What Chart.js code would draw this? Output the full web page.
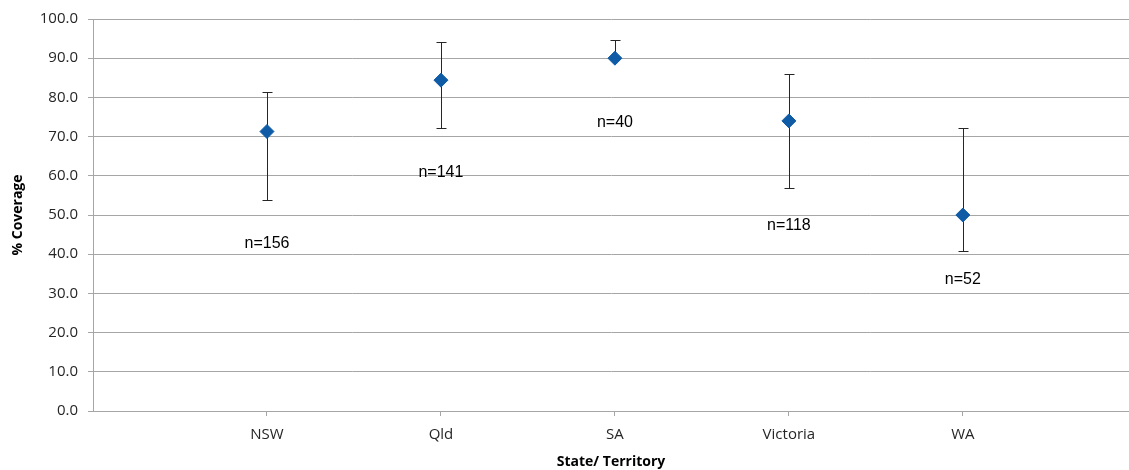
<!DOCTYPE html>
<html>
<head>
<meta charset="utf-8">
<script src="https://cdn.jsdelivr.net/npm/chart.js@4.4.1/dist/chart.umd.min.js"></script>
<style>
	html, body { margin: 0; padding: 0; background: #fff; overflow: hidden; }
	#wrap { width: 1129px; height: 470px; }
</style>
</head>
<body>
<div id="wrap"><canvas id="myChart"></canvas></div>
<script>
// data
const categories = ['NSW', 'Qld', 'SA', 'Victoria', 'WA']
const coverage   = [71.3, 84.4, 90.0, 74.0, 50.0]
const upperCI    = [81.4, 94.1, 94.7, 85.9, 72.3]
const lowerCI    = [53.7, 72.3, 90.0, 56.9, 40.9]
const sampleText = ['n=156', 'n=141', 'n=40', 'n=118', 'n=52']
const sampleY    = [42.7, 60.7, 73.6, 47.3, 33.4]   // where the n= labels sit
const yTicks     = [0, 10, 20, 30, 40, 50, 60, 70, 80, 90, 100]

// categories sit at 1..5 on a 0..6 axis; the picture is cut just before 6
const xMax = 5.955

const gridColor   = '#A6A6A6'
const markerColor = '#0F5BA6'
const barColor    = '#262626'
const tickColor   = '#262626'

const errorBars = {
	id: 'errorBars',
	beforeDatasetsDraw(chart) {
		const { ctx, scales: { x, y } } = chart
		ctx.save()
		ctx.strokeStyle = barColor
		ctx.lineWidth = 1
		categories.forEach((cat, i) => {
			const px = Math.round(x.getPixelForValue(i + 1)) + 0.5
			const top = Math.round(y.getPixelForValue(upperCI[i])) + 0.5
			const bot = Math.round(y.getPixelForValue(lowerCI[i])) + 0.5
			ctx.beginPath()
			ctx.moveTo(px, top); ctx.lineTo(px, bot)
			ctx.moveTo(px - 5, top); ctx.lineTo(px + 5, top)
			ctx.moveTo(px - 5, bot); ctx.lineTo(px + 5, bot)
			ctx.stroke()
		})
		ctx.restore()
	}
}

const sampleLabels = {
	id: 'sampleLabels',
	afterDatasetsDraw(chart) {
		const { ctx, scales: { x, y } } = chart
		ctx.save()
		ctx.font = '16px "Liberation Sans", Arial, sans-serif'
		ctx.fillStyle = '#000'
		ctx.textAlign = 'center'
		ctx.textBaseline = 'middle'
		categories.forEach((cat, i) => {
			ctx.fillText(sampleText[i], x.getPixelForValue(i + 1), y.getPixelForValue(sampleY[i]))
		})
		ctx.restore()
	}
}

const ctx = document.getElementById('myChart').getContext('2d')
const chart = new Chart(ctx, {
	type: 'scatter',
	data: {
		datasets: [{
			label: '% Coverage',
			data: categories.map((c, i) => ({ x: i + 1, y: coverage[i] })),
			pointStyle: 'rectRot',
			pointRadius: 7,
			pointBackgroundColor: markerColor,
			pointBorderColor: markerColor,
			pointBorderWidth: 1
		}]
	},
	options: {
		animation: false,
		responsive: true,
		maintainAspectRatio: false,
		layout: {
			autoPadding: false,
			padding: { top: 18, right: 0, left: 0, bottom: 0 }
		},
		plugins: {
			legend: { display: false },
			tooltip: { enabled: false }
		},
		scales: {
			x: {
				type: 'linear',
				min: 0,
				max: xMax,
				afterFit: scale => {
					scale.height = 59
					scale.paddingLeft = 0
					scale.paddingRight = 0
				},
				afterBuildTicks: scale => { scale.ticks = categories.map((c, i) => ({ value: i + 1 })) },
				grid: {
					drawOnChartArea: false,
					drawTicks: true,
					tickLength: 5,
					color: gridColor
				},
				border: { color: gridColor },
				ticks: {
					autoSkip: false,
					maxRotation: 0,
					padding: 10,
					color: tickColor,
					font: { family: '"Open Sans"', size: 15 },
					callback: v => categories[v - 1]
				},
				title: {
					display: true,
					text: 'State/ Territory',
					color: '#000',
					font: { family: '"Open Sans"', size: 14, weight: 'bold' },
					padding: 0
				}
			},
			y: {
				min: 0,
				max: 100,
				afterFit: scale => { scale.width = 93 },
				afterBuildTicks: scale => { scale.ticks = yTicks.map(v => ({ value: v })) },
				grid: {
					color: gridColor,
					tickLength: 5
				},
				border: { color: gridColor },
				ticks: {
					padding: 10,
					color: tickColor,
					font: { family: '"Open Sans"', size: 15 },
					callback: v => v.toFixed(1)
				},
				title: {
					display: true,
					text: '% Coverage',
					color: '#000',
					font: { family: '"Open Sans"', size: 14, weight: 'bold' },
					padding: { top: 10, bottom: 0 }
				}
			}
		}
	},
	plugins: [errorBars, sampleLabels]
})
</script>
</body>
</html>
